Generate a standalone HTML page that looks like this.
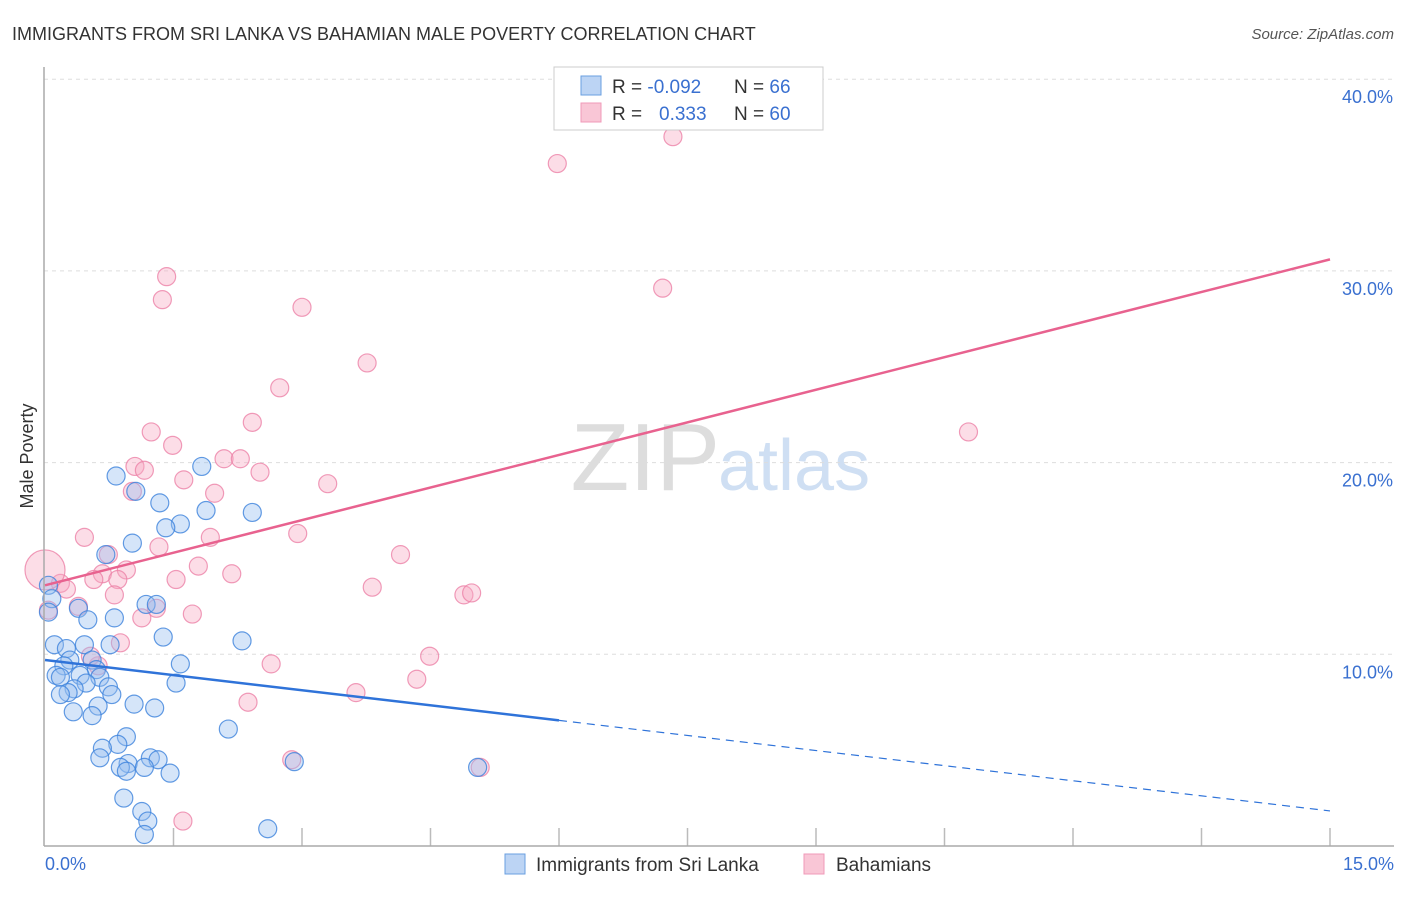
<!DOCTYPE html>
<html><head><meta charset="utf-8"><style>
body{margin:0;background:#fff;font-family:"Liberation Sans",sans-serif;}
svg text{font-family:"Liberation Sans",sans-serif;}
</style></head><body>
<svg id="chart" width="1406" height="892">
<text x="12" y="40" font-size="18" fill="#333">IMMIGRANTS FROM SRI LANKA VS BAHAMIAN MALE POVERTY CORRELATION CHART</text>
<text x="1394" y="39" font-size="15" fill="#555" font-style="italic" text-anchor="end">Source: ZipAtlas.com</text>
<text x="33" y="456" font-size="18" fill="#333" text-anchor="middle" transform="rotate(-90 33 456)">Male Poverty</text>
<text x="720" y="490" font-size="96" fill="#ddd" text-anchor="end" font-family="Liberation Serif">ZIP</text>
<text x="718" y="490" font-size="72" fill="#cfdff3">atlas</text>
<g id="grid"></g><g id="pts"></g><g id="trends"></g>
<line x1="44" y1="67" x2="44" y2="846" stroke="#aaa" stroke-width="1.5"/>
<line x1="44" y1="846" x2="1394" y2="846" stroke="#aaa" stroke-width="1.5"/>
<text x="45" y="870" font-size="18" fill="#3a70d0">0.0%</text>
<text x="1394" y="870" font-size="18" fill="#3a70d0" text-anchor="end">15.0%</text>
<g>
<rect x="554" y="67" width="269" height="63" fill="#fff" stroke="#ccc"/>
<rect x="581" y="76" width="20" height="19" fill="#bcd4f4" stroke="#6a9fe0"/>
<rect x="581" y="103" width="20" height="19" fill="#f9c6d6" stroke="#f09ab8"/>
<text x="612" y="93" font-size="19" fill="#333">R = <tspan fill="#3a70d0">-0.092</tspan></text>
<text x="734" y="93" font-size="19" fill="#333">N = <tspan fill="#3a70d0">66</tspan></text>
<text x="612" y="120" font-size="19" fill="#333">R = <tspan fill="#3a70d0" x="659">0.333</tspan></text>
<text x="734" y="120" font-size="19" fill="#333">N = <tspan fill="#3a70d0">60</tspan></text>
</g>
<g>
<rect x="505" y="854" width="20" height="20" fill="#bcd4f4" stroke="#6a9fe0"/>
<text x="536" y="871" font-size="19" fill="#333">Immigrants from Sri Lanka</text>
<rect x="804" y="854" width="20" height="20" fill="#f9c6d6" stroke="#f09ab8"/>
<text x="836" y="871" font-size="19" fill="#333">Bahamians</text>
</g>
</svg>
<script>
const yTicks=[10,20,30,40];
const xTickCount=10;
const blueX=[0.83,1.06,1.34,1.58,1.41,1.88,2.42,1.83,1.02,0.71,0.04,0.08,0.04,0.39,0.50,0.81,1.18,1.30,1.38,2.30,0.11,0.46,0.76,0.25,0.55,0.29,0.22,0.60,1.58,0.13,0.18,0.41,0.64,0.74,0.48,0.34,0.27,0.18,0.78,1.53,0.62,1.04,1.28,0.33,0.55,2.14,0.95,0.85,0.67,0.64,1.23,1.32,0.97,0.88,1.16,0.95,1.46,0.92,1.13,1.20,1.16,2.60,2.91,5.05];
const blueY=[19.3,18.5,17.9,16.8,16.6,17.5,17.4,19.8,15.8,15.2,13.6,12.9,12.2,12.4,11.8,11.9,12.6,12.6,10.9,10.7,10.5,10.5,10.5,10.3,9.7,9.7,9.4,9.2,9.5,8.9,8.8,8.9,8.8,8.3,8.5,8.2,8.0,7.9,7.9,8.5,7.3,7.4,7.2,7.0,6.8,6.1,5.7,5.3,5.1,4.6,4.6,4.5,4.3,4.1,4.1,3.9,3.8,2.5,1.8,1.3,0.6,0.9,4.4,4.1];
const pinkX=[7.33,5.98,1.42,1.37,3.00,7.21,3.76,2.74,2.42,1.24,1.49,10.78,1.05,1.16,2.09,2.28,2.51,1.62,3.30,1.02,1.98,0.46,1.93,2.95,1.33,0.74,4.15,1.79,0.95,0.67,2.18,1.53,0.57,0.85,0.18,0.25,3.82,4.89,4.98,0.81,1.30,1.72,1.13,0.39,0.88,0.62,0.53,2.64,4.49,4.34,3.63,2.37,2.88,5.08,1.61,0.0,0.04];
const pinkY=[37.0,35.6,29.7,28.5,28.1,29.1,25.2,23.9,22.1,21.6,20.9,21.6,19.8,19.6,20.2,20.2,19.5,19.1,18.9,18.5,18.4,16.1,16.1,16.3,15.6,15.2,15.2,14.6,14.4,14.2,14.2,13.9,13.9,13.9,13.7,13.4,13.5,13.1,13.2,13.1,12.4,12.1,11.9,12.5,10.6,9.4,9.9,9.5,9.9,8.7,8.0,7.5,4.5,4.1,1.3,14.4,12.3];
const blueTrend=[9.7,1.83];
const pinkTrend=[13.6,30.6];
const blueSolidEnd=6;
const NS='http://www.w3.org/2000/svg';
const sx=v=>45+v/15*1285;
const sy=v=>846-v*19.17;
function mk(t,a,p){const e=document.createElementNS(NS,t);for(const k in a)e.setAttribute(k,a[k]);p.appendChild(e);return e;}
const grid=document.getElementById('grid');
yTicks.forEach(t=>{
 const l=mk('line',{x1:44,x2:1394,y1:sy(t),y2:sy(t),stroke:'#ddd','stroke-dasharray':'4,4'},grid);
 
 
 const tx=mk('text',{x:1393,y:sy(t)+24,'font-size':18,fill:'#3a70d0','text-anchor':'end'},grid);
 tx.textContent=t.toFixed(1)+'%';
 
 
});
for(let i=1;i<=xTickCount;i++){
 const l=mk('line',{x1:sx(i*1.5),x2:sx(i*1.5),y1:828,y2:846,stroke:'#bbb','stroke-width':1.5},grid);
 
 
}
const pts=document.getElementById('pts');
function dots(X,Y,fill,stroke,name){X.forEach((x,i)=>{
 const big=(name==='bahamians-point'&&i===X.length-2)?20:9;
 const c=mk('circle',{cx:sx(x),cy:sy(Y[i]),r:big,fill:fill,stroke:stroke,'stroke-width':1.2},pts);
 
 
});}
dots(pinkX,pinkY,'rgba(247,170,196,0.4)','rgba(236,130,168,0.8)','bahamians-point');
dots(blueX,blueY,'rgba(150,190,240,0.4)','rgba(60,130,220,0.8)','sri-lanka-point');
const tr=document.getElementById('trends');
const bMid=blueTrend[0]+(blueTrend[1]-blueTrend[0])*(blueSolidEnd/15);
const b1=mk('line',{x1:sx(0),y1:sy(blueTrend[0]),x2:sx(blueSolidEnd),y2:sy(bMid),stroke:'#2f73d9','stroke-width':2.5},tr);


const b2=mk('line',{x1:sx(blueSolidEnd),y1:sy(bMid),x2:sx(15),y2:sy(blueTrend[1]),stroke:'#2f73d9','stroke-width':1.2,'stroke-dasharray':'8,6'},tr);


const p1=mk('line',{x1:sx(0),y1:sy(pinkTrend[0]),x2:sx(15),y2:sy(pinkTrend[1]),stroke:'#e8628f','stroke-width':2.5},tr);


</script>
</body></html>
